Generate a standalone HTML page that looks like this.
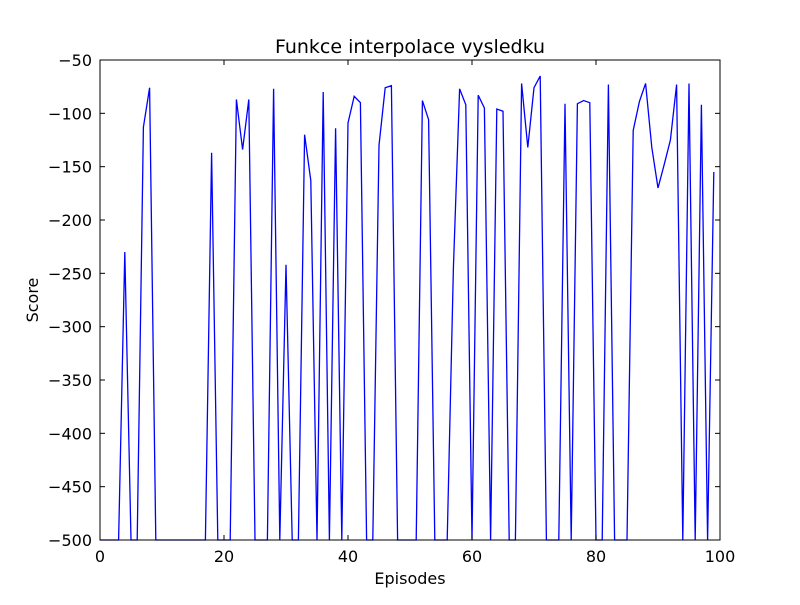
<!DOCTYPE html>
<html><head><meta charset="utf-8"><style>
body{margin:0;background:#fff;}
svg text{font-family:"DejaVu Sans","Liberation Sans",sans-serif;fill:#000;}
</style></head><body>
<svg id="chart" width="800" height="600">
<rect width="800" height="600" fill="#fff"/>
<text x="410" y="53" font-size="19" text-anchor="middle">Funkce interpolace vysledku</text>
<g id="plot"></g>
<text x="410" y="584" font-size="16" text-anchor="middle">Episodes</text>
<text transform="translate(38,300) rotate(-90)" font-size="16" text-anchor="middle">Score</text>
</svg>
<script>
const episodes = Array.from({length:100},(_, i)=>i);
const scores = [-500,-500,-500,-500,-230,-500,-500,-113,-76,-500,
-500,-500,-500,-500,-500,-500,-500,-500,-137,-500,
-500,-500,-87,-134,-87,-500,-500,-500,-77,-500,
-242,-500,-500,-120,-163,-500,-80,-500,-114,-500,
-109,-84,-90,-500,-500,-130,-76,-74,-500,-500,
-500,-500,-88,-106,-500,-500,-500,-245,-77,-92,
-500,-83,-95,-500,-96,-98,-500,-500,-72,-132,
-76,-65,-500,-500,-500,-91,-500,-91,-88,-90,
-500,-500,-73,-500,-500,-500,-116,-89,-72,-132,
-170,-148,-125,-73,-500,-72,-500,-92,-500,-155];
const xTicks = [0,20,40,60,80,100];
const yTicks = [-500,-450,-400,-350,-300,-250,-200,-150,-100,-50];
const L=100,R=720,T=60,B=540, xMin=0,xMax=100,yMin=-500,yMax=-50;
const sx=v=>L+(v-xMin)/(xMax-xMin)*(R-L);
const sy=v=>B-(v-yMin)/(yMax-yMin)*(B-T);
const g=document.getElementById('plot');
const NS='http://www.w3.org/2000/svg';
function mk(t,a){const e=document.createElementNS(NS,t);for(const k in a)e.setAttribute(k,a[k]);g.appendChild(e);return e;}
const line=mk('polyline',{points:episodes.map((x,i)=>sx(x)+','+sy(scores[i])).join(' '),fill:'none',stroke:'#0000ff','stroke-width':1.3,'stroke-linejoin':'miter'});


xTicks.forEach(v=>{
  const x=sx(v);
  const t1=mk('line',{x1:x,x2:x,y1:B,y2:B-5,stroke:'#000'});
  
  
  const t2=mk('line',{x1:x,x2:x,y1:T,y2:T+5,stroke:'#000'});
  
  
  const lb=mk('text',{x:x,y:B+22,'font-size':16,'text-anchor':'middle'});
  lb.textContent=v;
  
  
});
yTicks.forEach(v=>{
  const y=sy(v);
  const t1=mk('line',{x1:L,x2:L+5,y1:y,y2:y,stroke:'#000'});
  
  
  const t2=mk('line',{x1:R,x2:R-5,y1:y,y2:y,stroke:'#000'});
  
  
  const lb=mk('text',{x:L-8,y:y+6,'font-size':16,'text-anchor':'end'});
  lb.textContent=String(v).replace('-','\u2212');
  
  
});
const fr=mk('rect',{x:L,y:T,width:R-L,height:B-T,fill:'none',stroke:'#000','stroke-width':1});


</script>
</body></html>
